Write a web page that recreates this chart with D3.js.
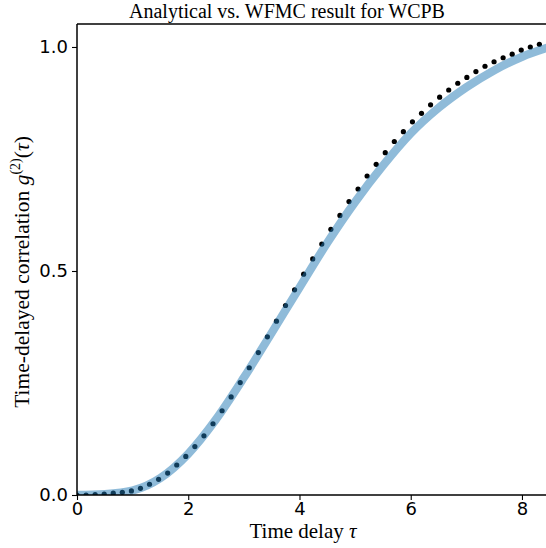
<!DOCTYPE html>
<html><head><meta charset="utf-8">
<script src="https://cdn.jsdelivr.net/npm/d3@7"></script>
<style>body{margin:0;background:#fff}</style>
</head><body>
<svg id="c" width="546" height="548"></svg>
<script>
// WFMC simulation points
const tauDots = [0, 0.163, 0.326, 0.489, 0.652, 0.815, 0.978, 1.141, 1.304, 1.467, 1.63, 1.793, 1.956, 2.119, 2.282, 2.445, 2.608, 2.771, 2.934, 3.097, 3.26, 3.423, 3.586, 3.749, 3.912, 4.075, 4.238, 4.401, 4.564, 4.727, 4.89, 5.053, 5.216, 5.379, 5.542, 5.705, 5.868, 6.031, 6.194, 6.357, 6.52, 6.683, 6.846, 7.009, 7.172, 7.335, 7.498, 7.661, 7.824, 7.987, 8.15, 8.313];
const g2Dots = [0.000, 0.000, 0.001, 0.002, 0.004, 0.006, 0.009, 0.015, 0.024, 0.035, 0.049, 0.067, 0.086, 0.108, 0.132, 0.159, 0.188, 0.219, 0.251, 0.284, 0.318, 0.353, 0.388, 0.423, 0.458, 0.493, 0.527, 0.560, 0.593, 0.624, 0.655, 0.683, 0.712, 0.738, 0.764, 0.789, 0.811, 0.833, 0.852, 0.871, 0.888, 0.904, 0.919, 0.932, 0.945, 0.957, 0.967, 0.976, 0.984, 0.993, 1.000, 1.006];
// Analytical curve
const tauAna = [0, 0.5, 1.0, 1.5, 2.0, 2.5, 3.0, 3.5, 4.0, 4.5, 5.0, 5.5, 6.0, 6.5, 7.0, 7.5, 8.0, 8.5];
const g2Ana = [0, 0.002, 0.010, 0.038, 0.092, 0.169, 0.262, 0.362, 0.463, 0.563, 0.654, 0.735, 0.807, 0.864, 0.910, 0.948, 0.978, 1.000];
const xTicks = [0, 2, 4, 6, 8];
const yTicks = [0.0, 0.5, 1.0];
const titleText = "Analytical vs. WFMC result for WCPB";

const svg = d3.select("#c");
const L = 77, R = 547, T = 24, B = 495;
const x = d3.scaleLinear().domain([0, 8.45]).range([L, R]);
const y = d3.scaleLinear().domain([0, 1.0513]).range([B, T]);

svg.append("defs").append("clipPath").attr("id", "clip")
  .append("rect").attr("x", L).attr("y", T).attr("width", R - L).attr("height", B - T);

const plot = svg.append("g").attr("clip-path", "url(#clip)");
plot.selectAll("circle").data(tauDots).join("circle")
  .attr("cx", (d) => x(d)).attr("cy", (d, i) => y(g2Dots[i])).attr("r", 2.6).attr("fill", "#000");
plot.append("path")
  .datum(tauAna.map((t, i) => [t, g2Ana[i]]))
  .attr("d", d3.line().x(d => x(d[0])).y(d => y(d[1])).curve(d3.curveMonotoneX))
  .attr("fill", "none").attr("stroke", "#1f77b4").attr("stroke-opacity", 0.5)
  .attr("stroke-width", 8.3).attr("stroke-linecap", "butt");

const tickFont = "'DejaVu Sans', sans-serif";
const xa = svg.append("g").attr("transform", `translate(0,${B})`)
  .call(d3.axisBottom(x).tickValues(xTicks).tickFormat(d3.format("d")).tickSize(5).tickSizeOuter(0));
const ya = svg.append("g").attr("transform", `translate(${L},0)`)
  .call(d3.axisLeft(y).tickValues(yTicks).tickFormat(d3.format(".1f")).tickSize(5).tickSizeOuter(0));
[xa, ya].forEach(a => {
  a.select(".domain").remove();
  a.selectAll("line").attr("stroke", "#000").attr("stroke-width", 1.1);
  a.selectAll("text").attr("font-family", tickFont).attr("font-size", 18).attr("fill", "#000");
});
xa.selectAll("text").attr("dy", "0.71em").attr("y", 7);
ya.selectAll("text").attr("x", -9);

// spines
const sp = svg.append("g").attr("stroke", "#000").attr("stroke-width", 1.5).attr("fill", "none");
sp.append("line").attr("x1", L).attr("x2", L).attr("y1", T).attr("y2", B);
sp.append("line").attr("x1", L).attr("x2", 546).attr("y1", T).attr("y2", T);
sp.append("line").attr("x1", L).attr("x2", 546).attr("y1", B).attr("y2", B);

const serif = "'Liberation Serif', 'Times New Roman', serif";
svg.append("text").attr("x", 287).attr("y", 18).attr("text-anchor", "middle")
  .attr("font-family", serif).attr("font-size", 20).text(titleText);

const xl = svg.append("text").attr("x", 303).attr("y", 538).attr("text-anchor", "middle")
  .attr("font-family", serif).attr("font-size", 21);
xl.append("tspan").text("Time delay ");
xl.append("tspan").attr("font-style", "italic").text("τ");

const yl = svg.append("text").attr("transform", "translate(29,272) rotate(-90)")
  .attr("text-anchor", "middle").attr("font-family", serif).attr("font-size", 21.5);
yl.append("tspan").text("Time-delayed correlation ");
yl.append("tspan").attr("font-style", "italic").text("g");
yl.append("tspan").attr("font-size", 14).attr("dy", -9).text("(2)");
yl.append("tspan").attr("dy", 9).text("(");
yl.append("tspan").attr("font-style", "italic").text("τ");
yl.append("tspan").text(")");
</script>
</body></html>
